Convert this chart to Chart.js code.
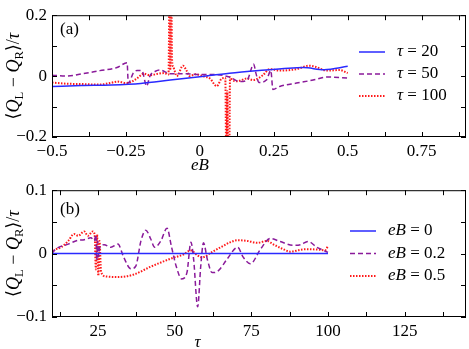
<!DOCTYPE html>
<html>
<head>
<meta charset="utf-8">
<script src="https://cdn.jsdelivr.net/npm/chart.js@4.4.1/dist/chart.umd.min.js"></script>
<style>
  body { margin: 0; background: #fff; }
  canvas { display: block; }
</style>
</head>
<body>
<canvas id="chartA" width="469" height="175"></canvas>
<canvas id="chartB" width="469" height="174"></canvas>
<script>
// panel (a): current vs eB
const eB20 = [-0.5, -0.4, -0.3, -0.2, -0.1, 0, 0.1, 0.2, 0.3, 0.35, 0.42, 0.5];
const q20 = [-0.034, -0.031, -0.029, -0.024, -0.013, -0.002, 0.009, 0.018, 0.026, 0.028, 0.021, 0.032];

const eB50 = [-0.5, -0.45, -0.395, -0.338, -0.28, -0.246, -0.242, -0.225, -0.213, -0.196, -0.18, -0.169, -0.15,
  -0.135, -0.1, -0.05, 0, 0.05, 0.1, 0.135, 0.16, 0.182, 0.19, 0.2, 0.225, 0.24, 0.247, 0.27, 0.327, 0.383, 0.43, 0.5];
const q50 = [0.003, 0.0, 0.008, 0.018, 0.028, 0.044, -0.023, 0.01, 0.018, 0.018, -0.033, 0.0, 0.016,
  0.02, 0.008, 0.008, 0.005, 0.005, -0.003, -0.018, -0.013, 0.039, 0.008, -0.021, -0.013, 0.018, -0.044, -0.034, -0.023, -0.013, -0.003, -0.006];

const eB100 = [-0.5, -0.45, -0.4, -0.34, -0.3, -0.28, -0.246, -0.213, -0.19, -0.17, -0.14, -0.12, -0.106, -0.102,
  -0.1, -0.097, -0.094, -0.09, -0.078, -0.057, -0.045, -0.034, -0.015, 0.01, 0.034, 0.057, 0.074, 0.086,
  0.09, 0.093, 0.096, 0.099, 0.102, 0.11, 0.125, 0.16, 0.18, 0.213, 0.236, 0.27, 0.327, 0.37, 0.39, 0.43, 0.473, 0.5];
const q100 = [-0.021, -0.025, -0.026, -0.028, -0.022, -0.018, -0.023, -0.008, 0.008, 0.003, 0.008, 0.01, 0.005, 0.35,
  0.02, 0.35, 0.054, 0.03, 0.0, 0.034, 0.018, 0.0, 0.006, 0.0, -0.008, -0.033, -0.008, -0.006,
  -0.35, -0.05, -0.35, -0.35, -0.003, -0.013, -0.017, -0.008, -0.013, 0.003, 0.023, 0.018, 0.023, 0.034, 0.031, 0.018, 0.02, 0.01];

// panel (b): current vs tau
const tau0 = [10, 25, 50, 75, 100];
const qB0 = [0, 0, 0, 0, 0];

const tau02 = [10, 10.7, 15.3, 18.5, 20.5, 22.7, 23.8, 24.3, 24.6, 24.9, 25.2, 25.6, 27, 29.2, 31.5, 33.4, 35.7, 37.3, 39,
  40.6, 42.2, 43.5, 45.5, 47.5, 49, 50.5, 52.3, 54, 55.3, 56.2, 57.5, 58.5, 59.4, 60.7, 62.2, 64, 67.2, 70.5, 72.4,
  74.7, 78, 81.2, 84.4, 88.6, 91, 93.5, 96.4, 100];
const qB02 = [0, 0.005, 0.015, 0.021, 0.022, 0.025, 0.02, 0.03, -0.01, 0.02, -0.005, 0.01, 0.014, 0.01, 0.015, -0.006, -0.024, -0.02, 0.02,
  0.037, 0.023, 0.01, 0.02, 0.04, 0.01, -0.02, -0.04, -0.03, 0.018, -0.01, -0.084, -0.02, 0.017, -0.01, -0.03, -0.028, -0.008, 0.01, -0.006,
  -0.016, 0.007, 0.024, 0.019, 0.013, 0.014, 0.019, 0.01, 0.002];

const tau05 = [10, 10.7, 13, 15.3, 17.2, 18.5, 20.5, 21.7, 23.3, 23.9, 24.3, 24.7, 25.1, 25.5, 26,
  27.6, 31.5, 36.7, 42, 45.5, 48.7, 53, 55.2, 57.5, 59, 62, 65, 68.2, 70.5, 73.7, 76.9, 80.2, 82, 85.4, 87.7, 91, 93, 97.4, 99, 100];
const qB05 = [0, 0.005, 0.01, 0.02, 0.031, 0.028, 0.035, 0.028, 0.035, 0.03, -0.025, 0.03, -0.035, 0.02, -0.029,
  -0.036, -0.037, -0.033, -0.021, -0.014, -0.008, -0.001, 0.005, -0.003, -0.006, 0.002, 0.01, 0.018, 0.021, 0.02, 0.017, 0.02, 0.015, 0.007, 0.003, 0.006, 0.007, 0.006, 0.005, 0.012];

// ticks and labels
const xTicksA = [-0.5, -0.375, -0.25, -0.125, 0, 0.125, 0.25, 0.375, 0.5, 0.625, 0.75, 0.875];
const xLabelsA = ['−0.5', '', '−0.25', '', '0', '', '0.25', '', '0.5', '', '0.75', ''];
const yTicksA = [-0.2, -0.1, 0, 0.1, 0.2];
const yLabelsA = ['−0.2', '', '0', '', '0.2'];
const xTicksB = [12.5, 25, 37.5, 50, 62.5, 75, 87.5, 100, 112.5, 125, 137.5];
const xLabelsB = ['', '25', '', '50', '', '75', '', '100', '', '125', ''];
const yTicksB = [-0.1, -0.05, 0, 0.05, 0.1];
const yLabelsB = ['−0.1', '', '0', '', '0.1'];

const legendA = [['τ', ' = 20'], ['τ', ' = 50'], ['τ', ' = 100']];
const legendB = [['eB', ' = 0'], ['eB', ' = 0.2'], ['eB', ' = 0.5']];

const SERIF = "'Liberation Serif', 'DejaVu Serif', serif";
const BLUE = '#2a2aff';
const PURPLE = '#8a1a9a';
const RED = '#ff1a1a';

function pts(xs, ys) {
    return xs.map((x, i) => ({ x: x, y: ys[i] }));
}

function series(xs, ys, color, dash, width) {
    return {
        data: pts(xs, ys),
        borderColor: color,
        borderDash: dash,
        borderWidth: width,
        pointRadius: 0,
        cubicInterpolationMode: 'monotone',
        fill: false
    };
}

function mathText(ctx, parts, x, y, size) {
    // parts: [text, italic?, sub?]
    let cx = x;
    parts.forEach(p => {
        const fs = p[2] ? size * 0.7 : size;
        ctx.font = (p[1] ? 'italic ' : '') + fs + 'px ' + SERIF;
        ctx.fillText(p[0], cx, p[2] ? y + size * 0.22 : y);
        cx += ctx.measureText(p[0]).width;
    });
    return cx - x;
}

function mathWidth(ctx, parts, size) {
    let w = 0;
    parts.forEach(p => {
        const fs = p[2] ? size * 0.7 : size;
        ctx.font = (p[1] ? 'italic ' : '') + fs + 'px ' + SERIF;
        w += ctx.measureText(p[0]).width;
    });
    return w;
}

const yTitle = [['⟨'], ['Q', true], ['L', false, true], [' − '], ['Q', true], ['R', false, true], ['⟩/'], ['τ', true]];

const decor = {
    id: 'decor',
    afterDraw(chart, args, o) {
        const c = chart.ctx;
        const a = chart.chartArea;
        c.save();
        c.strokeStyle = '#000';
        c.fillStyle = '#000';
        c.lineWidth = 1;
        c.setLineDash([]);
        c.strokeRect(a.left + 0.5, a.top + 0.5, a.right - a.left - 1, a.bottom - a.top - 1);

        // inward ticks on all four sides
        const len = 5;
        c.beginPath();
        chart.scales.x.ticks.forEach(t => {
            const px = Math.round(chart.scales.x.getPixelForValue(t.value)) + 0.5;
            c.moveTo(px, a.bottom); c.lineTo(px, a.bottom - len);
            c.moveTo(px, a.top); c.lineTo(px, a.top + len);
        });
        chart.scales.y.ticks.forEach(t => {
            const py = Math.round(chart.scales.y.getPixelForValue(t.value)) + 0.5;
            c.moveTo(a.left, py); c.lineTo(a.left + len, py);
            c.moveTo(a.right, py); c.lineTo(a.right - len, py);
        });
        c.stroke();

        // panel label
        c.font = '17px ' + SERIF;
        c.textBaseline = 'middle';
        c.fillText(o.panel, a.left + 8, o.panelY);

        // axis titles
        c.textBaseline = 'alphabetic';
        const xt = [[o.xTitle, true]];
        const xw = mathWidth(c, xt, 17);
        mathText(c, xt, chart.scales.x.getPixelForValue(o.xTitleAt) - xw / 2, o.xTitleY, 17);

        c.save();
        c.translate(19, (a.top + a.bottom) / 2);
        c.rotate(-Math.PI / 2);
        const yw = mathWidth(c, yTitle, 18);
        mathText(c, yTitle, -yw / 2, 0, 18);
        c.restore();

        // legend
        c.textBaseline = 'middle';
        chart.data.datasets.forEach((ds, i) => {
            const ly = o.legY + i * o.legGap;
            c.beginPath();
            c.strokeStyle = ds.borderColor;
            c.lineWidth = ds.borderWidth;
            c.setLineDash(ds.borderDash);
            c.moveTo(o.legX, ly);
            c.lineTo(o.legX + 26, ly);
            c.stroke();
            c.setLineDash([]);
            c.fillStyle = '#000';
            mathText(c, [[o.legend[i][0], true], [o.legend[i][1]]], o.legX + 38, ly, 17);
        });
        c.restore();
    }
};

function makeChart(id, datasets, xr, yr, ticks, padTop, xHeight, o) {
    return new Chart(document.getElementById(id), {
        type: 'line',
        data: { datasets: datasets },
        options: {
            responsive: false,
            animation: false,
            devicePixelRatio: 1,
            layout: { padding: { top: padTop, right: 3, left: 0, bottom: 0 } },
            plugins: { legend: { display: false }, tooltip: { enabled: false }, decor: o },
            scales: {
                x: {
                    type: 'linear',
                    min: xr[0], max: xr[1],
                    afterBuildTicks: s => { s.ticks = ticks.xv.map(v => ({ value: v })); },
                    afterFit: s => { s.height = xHeight; },
                    grid: { display: false, drawTicks: false },
                    border: { display: false },
                    ticks: {
                        autoSkip: false, maxRotation: 0, padding: 4,
                        color: '#000', font: { family: SERIF, size: 17 },
                        callback: (v, i) => ticks.xl[i]
                    }
                },
                y: {
                    min: yr[0], max: yr[1],
                    afterBuildTicks: s => { s.ticks = ticks.yv.map(v => ({ value: v })); },
                    afterFit: s => { s.width = 52; },
                    grid: { display: false, drawTicks: false },
                    border: { display: false },
                    ticks: {
                        autoSkip: false, padding: 5,
                        color: '#000', font: { family: SERIF, size: 17 },
                        callback: (v, i) => ticks.yl[i]
                    }
                }
            }
        },
        plugins: [decor]
    });
}

makeChart('chartA', [
    series(eB20, q20, BLUE, [], 1.5),
    series(eB50, q50, PURPLE, [5, 3], 1.5),
    series(eB100, q100, RED, [1.5, 1.5], 2)
], [-0.5, 0.9], [-0.2, 0.2], { xv: xTicksA, xl: xLabelsA, yv: yTicksA, yl: yLabelsA }, 8, 38,
    { panel: '(a)', panelY: 30, xTitle: 'eB', xTitleAt: 0, xTitleY: 170, legX: 359, legY: 52, legGap: 22, legend: legendA });

makeChart('chartB', [
    series(tau0, qB0, BLUE, [], 1.5),
    series(tau02, qB02, PURPLE, [5, 3], 1.5),
    series(tau05, qB05, RED, [1.5, 1.5], 2)
], [10, 145], [-0.1, 0.1], { xv: xTicksB, xl: xLabelsB, yv: yTicksB, yl: yLabelsB }, 14, 32,
    { panel: '(b)', panelY: 35, xTitle: 'τ', xTitleAt: 57.5, xTitleY: 172, legX: 350, legY: 56, legGap: 22.5, legend: legendB });
</script>
</body>
</html>
